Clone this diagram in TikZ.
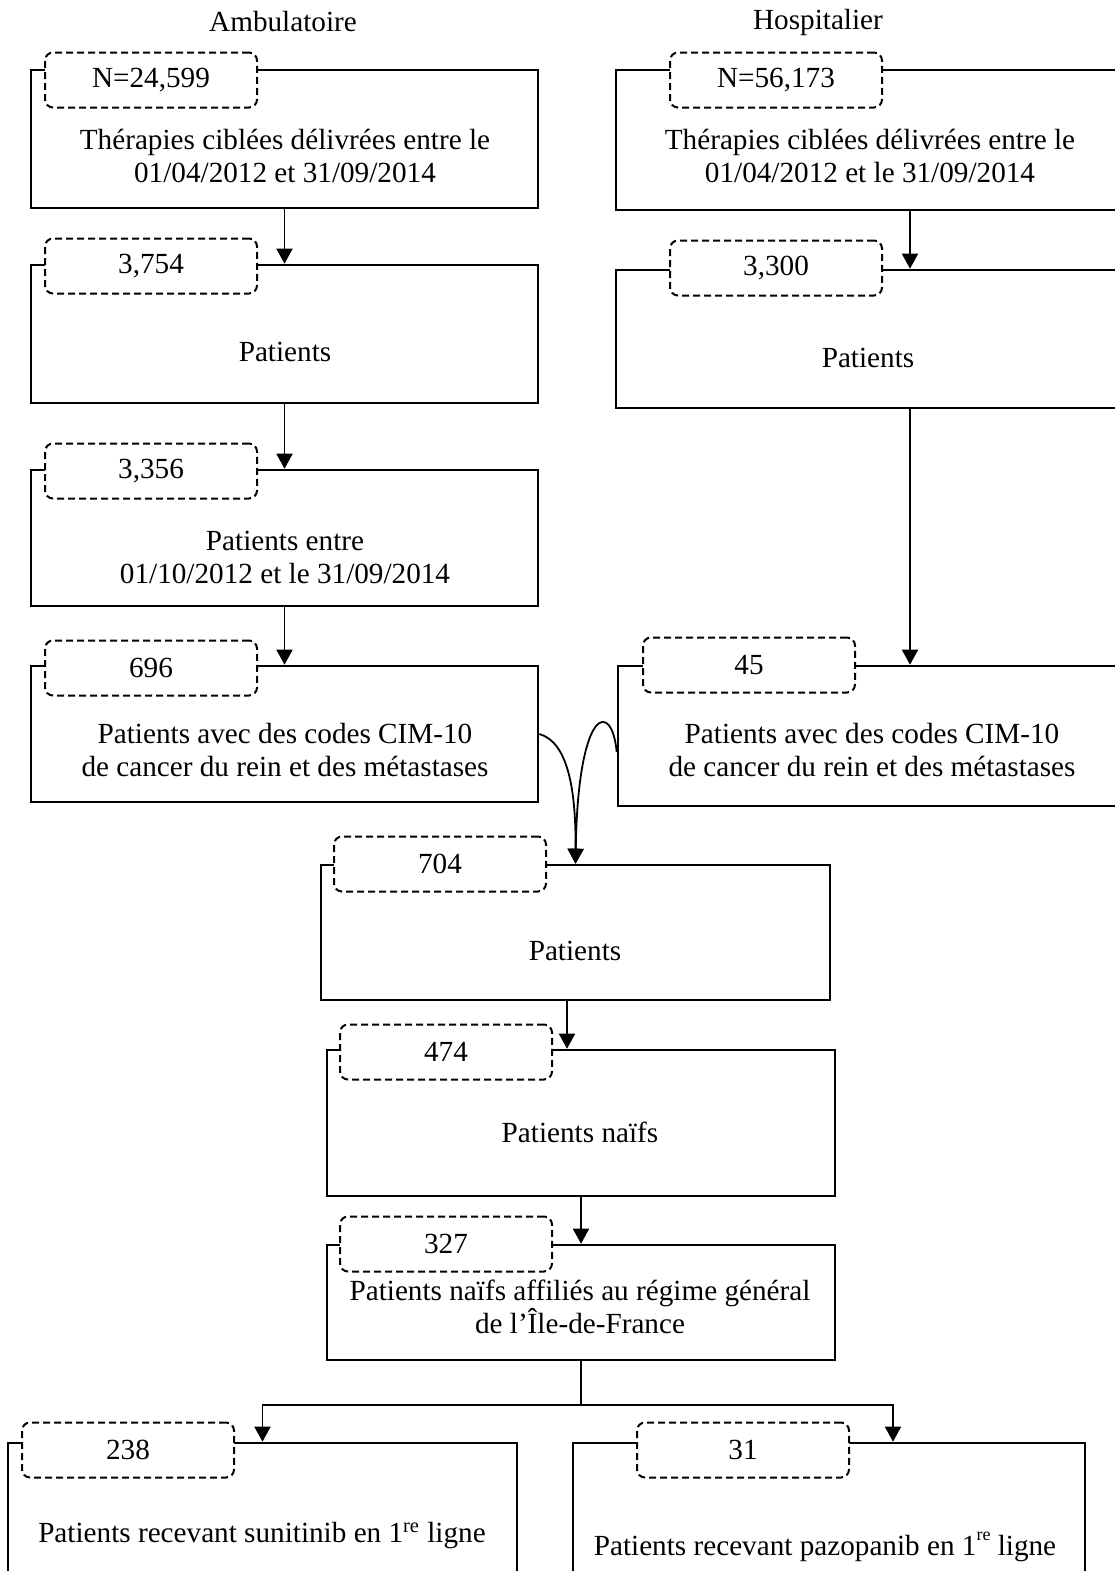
\documentclass[tikz,border=0pt]{standalone}
\usepackage{fontspec}
\setmainfont{Liberation Serif}
\usetikzlibrary{arrows.meta,positioning,calc}

\begin{document}
\begin{tikzpicture}[x=0.5pt, y=-0.5pt,
  every node/.style={font=\fontsize{14.6}{16.5}\selectfont},
  stage/.style={rectangle, draw, line width=1.3pt, inner sep=0pt},
  count/.style={rectangle, draw, fill=white, dash pattern=on 3.5pt off 2pt, rounded corners=4pt, line width=1pt, minimum width=106pt, minimum height=27.5pt, inner sep=0pt},
  caption/.style={align=center, inner sep=0pt},
  link/.style={line width=0.9pt},
  flow/.style={link, -{Triangle[length=7.5pt, width=8pt]}}
]
  \useasboundingbox (0,0) rectangle (1115,1571);

  % Column titles
  \node (ambu) at (283,22) {Ambulatoire};
  \node (hosp) at (818,22) {Hospitalier};

  % Ambulatoire column
  \node[stage, minimum width=253.5pt, minimum height=69pt] (a1) at (284.5,139) {};
  \node[stage, minimum width=253.5pt, minimum height=69pt] (a2) at (284.5,334) {};
  \node[stage, minimum width=253.5pt, minimum height=68pt] (a3) at (284.5,538) {};
  \node[stage, minimum width=253.5pt, minimum height=68pt] (a4) at (284.5,734) {};

  % Hospitalier column
  \node[stage, minimum width=254pt, minimum height=70pt] (h1) at (870,140) {};
  \node[stage, minimum width=254pt, minimum height=69pt] (h2) at (870,339) {};
  \node[stage, minimum width=254pt, minimum height=70pt] (h4) at (872,736) {};

  % Merged column
  \node[stage, minimum width=254.5pt, minimum height=67.5pt] (b704) at (575.5,932.5) {};
  \node[stage, minimum width=254pt, minimum height=73pt] (b474) at (581,1123) {};
  \node[stage, minimum width=254pt, minimum height=57.5pt] (b327) at (581,1302.5) {};
  \node[stage, minimum width=254.5pt, minimum height=93pt] (bl) at (262.5,1536) {};
  \node[stage, minimum width=256pt, minimum height=93pt] (br) at (829,1536) {};

  % Counts
  \node[count] (na1) at (151,80) {N=24,599};
  \node[count] (na2) at (151,266) {3,754};
  \node[count] (na3) at (151,471) {3,356};
  \node[count] (na4) at (151,668) {696};
  \node[count] (nh1) at (776,80) {N=56,173};
  \node[count] (nh2) at (776,268) {3,300};
  \node[count] (nh4) at (749,665) {45};
  \node[count] (nb704) at (440,864) {704};
  \node[count] (nb474) at (446,1052) {474};
  \node[count] (nb327) at (446,1244) {327};
  \node[count] (nbl) at (128,1450) {238};
  \node[count] (nbr) at (743,1450) {31};

  % Captions
  \node[caption] (ta1) at (285,156) {Thérapies ciblées délivrées entre le\\01/04/2012 et 31/09/2014};
  \node[caption] (ta2) at (285,352) {Patients};
  \node[caption] (ta3) at (285,557) {Patients entre\\01/10/2012 et le 31/09/2014};
  \node[caption] (ta4) at (285,750) {Patients avec des codes CIM-10\\de cancer du rein et des métastases};
  \node[caption] (th1) at (870,156) {Thérapies ciblées délivrées entre le\\01/04/2012 et le 31/09/2014};
  \node[caption] (th2) at (868,358) {Patients};
  \node[caption] (th4) at (872,750) {Patients avec des codes CIM-10\\de cancer du rein et des métastases};
  \node[caption] (tb704) at (575,951) {Patients};
  \node[caption] (tb474) at (580,1132) {Patients naïfs};
  \node[caption] (tb327) at (580,1307) {Patients naïfs affiliés au régime général\\de l’Île-de-France};
  \node[caption] (tbl) at (262,1536) {Patients recevant sunitinib en 1\textsuperscript{re} ligne};
  \node[caption] (tbr) at (825,1547) {Patients recevant pazopanib en 1\raisebox{1.1ex}{\fontsize{9}{9}\selectfont re} ligne};

  % Pipes
  \coordinate (hx) at (910,0);
  \coordinate (bx) at (567,0);
  \coordinate (rx) at (893,0);
  \draw[flow] (a1.south) -- (a2.north);
  \draw[flow] (a2.south) -- (a3.north);
  \draw[flow] (a3.south) -- (a4.north);
  \draw[flow] (h1.south -| hx) -- (h2.north -| hx);
  \draw[flow] (h2.south -| hx) -- (h4.north -| hx);
  \draw[flow] (a4.east) .. controls (568,742) and (576,790) .. (b704.north);
  \draw[flow] ($(h4.west)+(0,16)$) .. controls (612,700) and (578,705) .. (b704.north);
  \draw[flow] (b704.south -| bx) -- (b474.north -| bx);
  \draw[flow] (b474.south) -- (b327.north);
  \draw[link] (b327.south) -- ++(0,44) coordinate (split);
  \draw[flow] (split) -| (bl.north);
  \draw[flow] (split) -| (br.north -| rx);
\end{tikzpicture}
\end{document}
